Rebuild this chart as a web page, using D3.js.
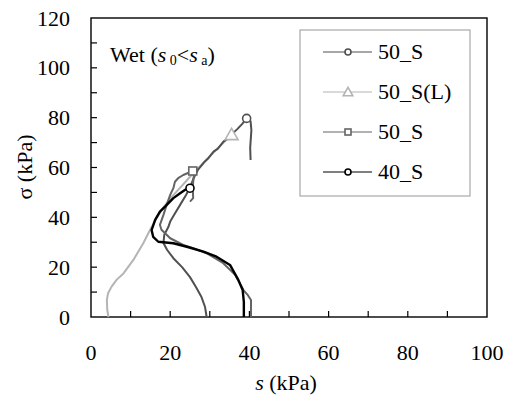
<!DOCTYPE html>
<html>
<head>
<meta charset="utf-8">
<script src="https://cdn.jsdelivr.net/npm/d3@7"></script>
</head>
<body style="margin:0">
<div id="chart"></div>
<script>
// Suction s (kPa) and net stress sigma (kPa) for each test
const s50a   = [29.2, 28.8, 27.9, 26.5, 25.0, 23.0, 20.8, 19.2, 18.3, 18.5, 19.5, 20.0, 21.0, 22.5, 24.0, 25.0, 26.0, 27.0, 28.5, 29.5, 31.0, 32.0, 33.5, 34.5, 36.0, 37.0, 38.2, 39.3, 40.3, 40.5, 40.2, 40.3];
const sig50a = [0, 4, 8, 12, 16, 20, 23.6, 27, 29.7, 33, 36, 38.3, 41, 45, 49, 52, 56, 59, 62, 63.5, 66.5, 67.5, 70.5, 71.5, 74, 75.5, 77.5, 79.7, 78.5, 75, 68, 63];

const s50L   = [4.4, 4.1, 4.0, 4.3, 5.2, 6.5, 8.2, 10.7, 13.2, 14.9, 16.5, 18.3, 20.0, 22.0, 24.0, 25.7, 27.5, 30.0, 32.5, 35.5];
const sig50L = [0, 3, 6.8, 9.5, 12.2, 15, 17.5, 22.9, 29.6, 34.9, 39.5, 44, 47.5, 51, 54.5, 57.5, 60.4, 64.5, 68.5, 73.1];

const s50b   = [40.4, 40.4, 39.5, 38.5, 36.4, 33.4, 29.2, 26.0, 23.3, 20.0, 17.8, 17.4, 18.3, 19.1, 20.0, 20.8, 21.2, 22.0, 23.3, 25.7, 26.0, 25.8, 25.7, 25.8, 25.0];
const sig50b = [0, 6.8, 9, 10.8, 16.9, 21.6, 25.6, 27.5, 28.9, 31.6, 35, 37, 41, 45, 49, 51.7, 54.3, 55.7, 57, 58.6, 57, 54, 51.7, 47.7, 46.3];

const s40   = [38.6, 38.6, 38.3, 37.2, 35.1, 31.7, 28.4, 24.2, 20.8, 17.0, 15.7, 15.3, 16.2, 17.4, 18.7, 20.8, 22.5, 23.7, 25.0];
const sig40 = [0, 6, 10.8, 14.9, 20.9, 24.2, 26.2, 28.2, 29.6, 30.2, 32.2, 34.9, 39, 42.3, 44.3, 47.7, 49.7, 51, 51.7];

const seriesNames = ['50_S', '50_S(L)', '50_S', '40_S'];
const seriesColors = ['#505050', '#b4b4b4', '#646464', '#000000'];
const seriesMarkers = ['circle', 'triangle', 'square', 'circle'];
const xTicks = [0, 10, 20, 30, 40, 50, 60, 70, 80, 90, 100];
const yTicks = [0, 10, 20, 30, 40, 50, 60, 70, 80, 90, 100, 110, 120];

const fs = 22;
const width = 515, height = 396;
const margin = { left: 91, right: 28, top: 18, bottom: 79 };

const svg = d3.select('#chart').append('svg')
    .attr('width', width)
    .attr('height', height);

const x = d3.scaleLinear().domain([0, 100]).range([margin.left, width - margin.right]);
const y = d3.scaleLinear().domain([0, 120]).range([height - margin.bottom, margin.top]);

// plot frame
svg.append('rect')
    .attr('x', x(0)).attr('y', y(120))
    .attr('width', x(100) - x(0)).attr('height', y(0) - y(120))
    .attr('fill', 'none').attr('stroke', '#000').attr('stroke-width', 1.4);

// inward tick marks from the scales
svg.append('g').selectAll('line')
    .data(xTicks.slice(1, -1))
    .join('line')
    .attr('x1', d => x(d)).attr('x2', d => x(d))
    .attr('y1', y(0)).attr('y2', y(0) - 6)
    .attr('stroke', '#000').attr('stroke-width', 1.2);

svg.append('g').selectAll('line')
    .data(yTicks.slice(1, -1))
    .join('line')
    .attr('x1', x(0)).attr('x2', x(0) + 6)
    .attr('y1', d => y(d)).attr('y2', d => y(d))
    .attr('stroke', '#000').attr('stroke-width', 1.2);

// tick labels every 20
svg.append('g').selectAll('text')
    .data(xTicks.filter(d => d % 20 === 0))
    .join('text')
    .attr('x', d => x(d)).attr('y', y(0) + 43)
    .attr('text-anchor', 'middle')
    .attr('font-family', 'serif').attr('font-size', fs)
    .text(d => d);

svg.append('g').selectAll('text')
    .data(yTicks.filter(d => d % 20 === 0))
    .join('text')
    .attr('x', x(0) - 21).attr('y', d => y(d) + 7.5)
    .attr('text-anchor', 'end')
    .attr('font-family', 'serif').attr('font-size', fs)
    .text(d => d);

// axis titles
const xt = svg.append('text')
    .attr('x', 286).attr('y', 390)
    .attr('text-anchor', 'middle')
    .attr('font-family', 'serif')
    .attr('font-size', fs);
xt.append('tspan').attr('font-style', 'italic').text('s');
xt.append('tspan').text('  (kPa)');

svg.append('text')
    .attr('transform', 'translate(32, 167) rotate(-90)')
    .attr('text-anchor', 'middle')
    .attr('font-family', 'serif')
    .attr('font-size', fs)
    .text('σ (kPa)');

// annotation
const note = svg.append('text').attr('x', 110).attr('y', 62)
    .attr('font-family', 'serif').attr('font-size', fs);
note.append('tspan').text('Wet (');
note.append('tspan').attr('font-style', 'italic').text('s');
note.append('tspan').attr('font-size', 14).attr('dy', 3).text(' 0');
note.append('tspan').attr('dy', -3).text('<');
note.append('tspan').attr('font-style', 'italic').text('s');
note.append('tspan').attr('font-size', 14).attr('dy', 3).text(' a');
note.append('tspan').attr('dy', -3).text(')');

const data = [
    d3.zip(s50a, sig50a),
    d3.zip(s50L, sig50L),
    d3.zip(s50b, sig50b),
    d3.zip(s40, sig40)
];

const line = d3.line().x(d => x(d[0])).y(d => y(d[1]));

function drawMarker(g, type, cx, cy, color, size) {
    if (type === 'circle') {
        g.append('circle').attr('cx', cx).attr('cy', cy).attr('r', size)
            .attr('fill', '#fff').attr('stroke', color).attr('stroke-width', 1.6);
    } else if (type === 'square') {
        g.append('rect').attr('x', cx - size).attr('y', cy - size)
            .attr('width', size * 2).attr('height', size * 2)
            .attr('fill', '#fff').attr('stroke', color).attr('stroke-width', 1.6);
    } else {
        const sym = d3.symbol().type(d3.symbolTriangle).size(size * size * 4.5);
        g.append('path').attr('d', sym()).attr('transform', `translate(${cx}, ${cy + 1})`)
            .attr('fill', '#fff').attr('stroke', color).attr('stroke-width', 1.6);
    }
}

// draw series (light one first so the dark lines lie on top)
[1, 0, 2, 3].forEach(i => {
    svg.append('path')
        .datum(data[i])
        .attr('d', line)
        .attr('fill', 'none')
        .attr('stroke', seriesColors[i])
        .attr('stroke-width', i === 3 ? 2.4 : 2)
        .attr('stroke-linejoin', 'round');
});

// end markers
const markerIndex = [27, data[1].length - 1, 19, data[3].length - 1];
[1, 0, 2, 3].forEach(i => {
    const p = data[i][markerIndex[i]];
    drawMarker(svg, seriesMarkers[i], x(p[0]), y(p[1]), seriesColors[i], 4);
});

// legend
const legend = svg.append('g');
legend.append('rect')
    .attr('x', 300).attr('y', 30).attr('width', 170).attr('height', 166)
    .attr('fill', '#fff').attr('stroke', '#a8a8a8').attr('stroke-width', 1.2);

seriesNames.forEach((name, i) => {
    const ly = 52 + i * 40;
    legend.append('line')
        .attr('x1', 323).attr('x2', 372).attr('y1', ly).attr('y2', ly)
        .attr('stroke', seriesColors[i]).attr('stroke-width', 1.2);
    drawMarker(legend, seriesMarkers[i], 348, ly, seriesColors[i], 3);
    legend.append('text')
        .attr('x', 378).attr('y', ly + 7)
        .attr('font-family', 'serif')
        .attr('font-size', fs)
        .text(name);
});
</script>
</body>
</html>
